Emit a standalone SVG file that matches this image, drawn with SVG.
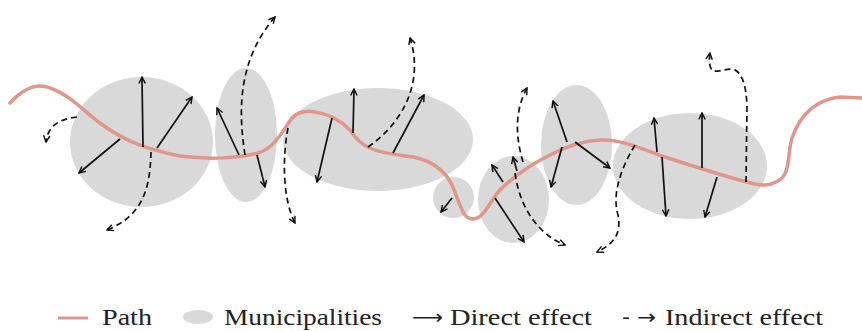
<svg xmlns="http://www.w3.org/2000/svg" width="862" height="331" viewBox="0 0 862 331">
<style>
.muni{fill:#d9d9d9}
.path{fill:none;stroke:#e0978b;stroke-width:3.5;stroke-linecap:round}
.dir{fill:none;stroke:#111;stroke-width:1.7;marker-end:url(#ah)}
.ind{fill:none;stroke:#111;stroke-width:1.7;stroke-dasharray:6 4;marker-end:url(#ah)}
.lg{font-family:"Liberation Serif","DejaVu Serif",serif;font-size:24px;fill:#222}
.sym{font-family:"DejaVu Sans",sans-serif;font-size:20px;fill:#222}
</style>
<defs>
<marker id="ah" viewBox="0 0 10 10" refX="9" refY="5" markerWidth="8" markerHeight="8" markerUnits="userSpaceOnUse" orient="auto">
<path d="M1,1 L9,5 L1,9" fill="none" stroke="#111" stroke-width="1.8"/>
</marker>
</defs>
<rect width="862" height="331" fill="#fff"/>
<g id="municipalities">
<ellipse id="m1" class="muni" cx="141.5" cy="142" rx="71.5" ry="65"/>
<ellipse id="m2" class="muni" cx="246" cy="135" rx="31" ry="67"/>
<ellipse id="m3" class="muni" cx="378" cy="139.5" rx="95" ry="51.5"/>
<ellipse id="m4" class="muni" cx="453.5" cy="197.5" rx="20.5" ry="20.5"/>
<ellipse id="m5" class="muni" cx="513.5" cy="199.5" rx="35.5" ry="43.5"/>
<ellipse id="m6" class="muni" cx="576.5" cy="145" rx="35.5" ry="60"/>
<ellipse id="m7" class="muni" cx="690" cy="166" rx="77" ry="53"/>
</g>
<g id="route">
<path class="path" d="M10,103 C22,90 35,82 50,88 C70,95 85,112 100,123 C125,142 150,150 180,156 C210,160 240,158 258,153 C275,148 283,130 292,118 C298,112 305,110 315,112 C330,114 342,122 350,130 C357,140 362,145 372,149 C385,154 400,155 413,157 C430,160 445,170 452,185 C460,203 462,218 472,219 C485,219 490,200 500,190 C515,175 530,165 550,155 C565,147 580,141 600,140 C620,139 640,148 665,157 C690,165 720,175 747,182 C760,186 772,187 782,178 C790,170 788,150 792,138 C800,115 815,100 840,97 L862,98"/>
</g>
<g id="connectors">
<line class="dir" x1="143" y1="147" x2="142" y2="77"/>
<line class="dir" x1="157" y1="148" x2="192" y2="97"/>
<line class="dir" x1="120" y1="139" x2="79" y2="173"/>
<line class="dir" x1="239" y1="155" x2="217" y2="108"/>
<line class="dir" x1="257" y1="155" x2="265" y2="187"/>
<line class="dir" x1="332" y1="118" x2="317" y2="182"/>
<line class="dir" x1="353" y1="133" x2="354" y2="89"/>
<line class="dir" x1="393" y1="153" x2="424" y2="95"/>
<line class="dir" x1="452" y1="198" x2="441" y2="212"/>
<line class="dir" x1="503" y1="182" x2="492" y2="165"/>
<line class="dir" x1="517" y1="171" x2="513" y2="157"/>
<line class="dir" x1="495" y1="198" x2="524" y2="242"/>
<line class="dir" x1="567" y1="142" x2="553" y2="101"/>
<line class="dir" x1="562" y1="147" x2="551" y2="187"/>
<line class="dir" x1="575" y1="142" x2="610" y2="168"/>
<line class="dir" x1="657" y1="152" x2="654" y2="118"/>
<line class="dir" x1="662" y1="157" x2="666" y2="216"/>
<line class="dir" x1="702" y1="168" x2="702" y2="113"/>
<line class="dir" x1="717" y1="177" x2="705" y2="217"/>
<path class="ind" d="M77,117 C60,119 48,125 46,142"/>
<path class="ind" d="M151,152 C150,185 145,215 107,230"/>
<path class="ind" d="M245,155 C238,110 238,60 275,17"/>
<path class="ind" d="M288,128 C282,160 283,200 295,223"/>
<path class="ind" d="M368,147 C400,125 425,85 410,38"/>
<path class="ind" d="M515,173 C520,210 540,235 565,245"/>
<path class="ind" d="M523,162 C515,135 515,110 527,88"/>
<path class="ind" d="M635,145 C620,170 612,195 618,215 C622,235 612,245 597,252"/>
<path class="ind" d="M746,182 L747,105 C746,85 742,72 733,69 C725,69 718,72 713,71 C709,68 709,60 710,53"/>
</g>
<g id="legend">
<line x1="58" y1="318" x2="88" y2="318" stroke="#e0978b" stroke-width="3"/>
<text class="lg" x="102" y="325" textLength="50" lengthAdjust="spacingAndGlyphs">Path</text>
<ellipse class="muni" cx="198" cy="317" rx="15" ry="7"/>
<text class="lg" x="224" y="325" textLength="158" lengthAdjust="spacingAndGlyphs">Municipalities</text>
<text class="sym" x="412" y="324" textLength="31" lengthAdjust="spacingAndGlyphs">⟶</text>
<text class="lg" x="450" y="325" textLength="142" lengthAdjust="spacingAndGlyphs">Direct effect</text>
<text class="sym" x="622" y="324" textLength="34" lengthAdjust="spacingAndGlyphs">- →</text>
<text class="lg" x="665" y="325" textLength="158" lengthAdjust="spacingAndGlyphs">Indirect effect</text>
</g>
</svg>
